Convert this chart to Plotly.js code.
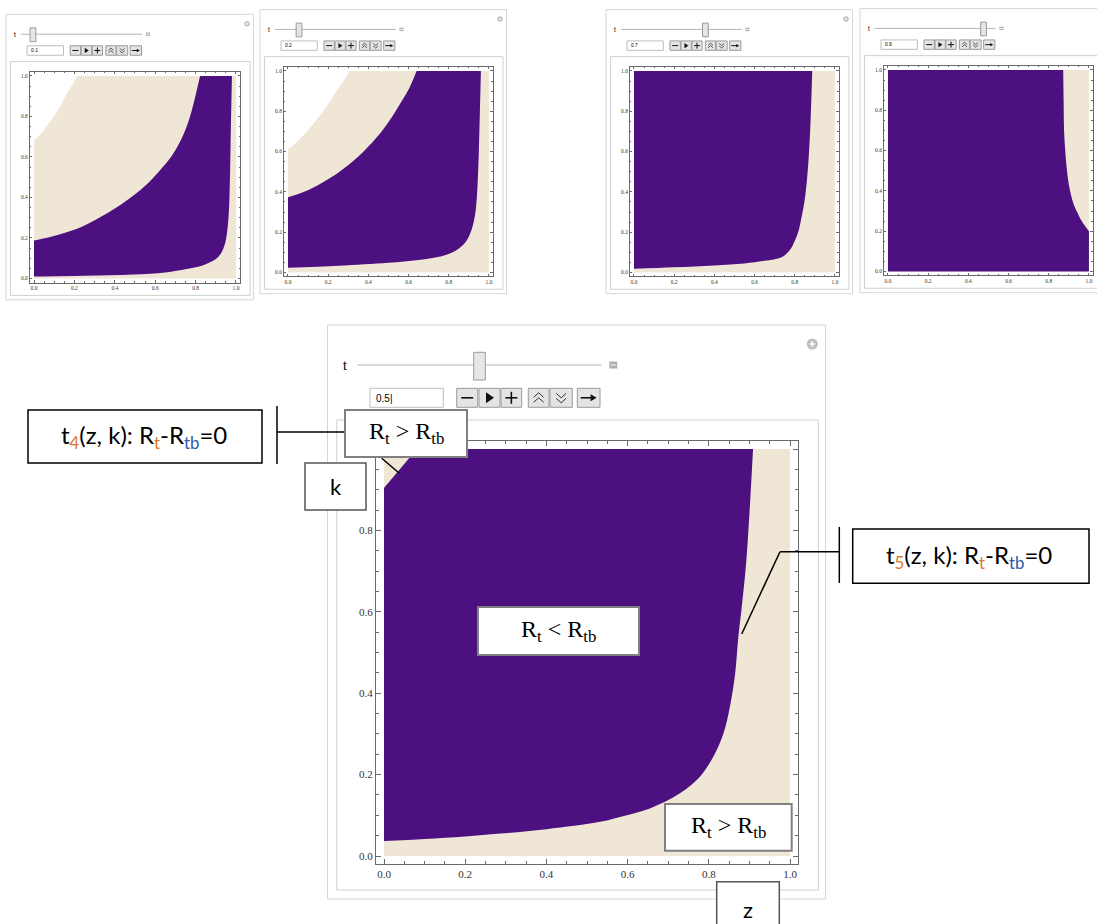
<!DOCTYPE html>
<html>
<head>
<meta charset="utf-8">
<script src="https://cdn.plot.ly/plotly-3.0.1.min.js"></script>
<style>
  html, body { margin: 0; padding: 0; background: #fff; }
  #chart { width: 1097px; height: 924px; }
</style>
</head>
<body>
<div id="chart"></div>
<script>
// Slider value of each Manipulate panel (four small ones, then the big one)
const tValues = [0.1, 0.2, 0.7, 0.9, 0.5];
const tLabels = ['0.1', '0.2', '0.7', '0.9', '0.5|'];

// Unit square (z, k) that the region plot covers
const squareZ = [0, 1, 1];
const squareK = [0, 0, 1];

// t = 0.1
const t01EdgeZ = [0, 0.05, 0.096, 0.13, 0.162, 0.19, 0.214];
const t01EdgeK = [0.68, 0.735, 0.797, 0.85, 0.913, 0.955, 1.0];
const t01UpperZ = [0, 0.08, 0.162, 0.25, 0.327, 0.41, 0.492, 0.56, 0.624, 0.68, 0.723, 0.755, 0.78, 0.80, 0.822];
const t01UpperK = [0.188, 0.205, 0.228, 0.262, 0.302, 0.352, 0.41, 0.467, 0.535, 0.603, 0.675, 0.748, 0.826, 0.905, 1.0];
const t01LowerZ = [0, 0.25, 0.49, 0.65, 0.756, 0.83, 0.871, 0.905, 0.929, 0.945, 0.954, 0.962, 0.967, 0.971, 0.974, 0.977, 0.98];
const t01LowerK = [0.01, 0.014, 0.02, 0.03, 0.047, 0.063, 0.08, 0.1, 0.13, 0.17, 0.213, 0.29, 0.38, 0.54, 0.713, 0.86, 1.0];

// t = 0.2
const t02EdgeZ = [0, 0.04, 0.085, 0.125, 0.168, 0.21, 0.25, 0.28, 0.308];
const t02EdgeK = [0.61, 0.645, 0.69, 0.737, 0.79, 0.85, 0.914, 0.955, 1.0];
const t02UpperZ = [0, 0.08, 0.168, 0.25, 0.333, 0.40, 0.466, 0.51, 0.549, 0.58, 0.607, 0.64];
const t02UpperK = [0.373, 0.40, 0.444, 0.495, 0.56, 0.625, 0.70, 0.76, 0.823, 0.873, 0.922, 1.0];
const t02LowerZ = [0, 0.25, 0.5, 0.65, 0.765, 0.82, 0.864, 0.893, 0.914, 0.93, 0.939, 0.945, 0.95, 0.955, 0.96];
const t02LowerK = [0.023, 0.033, 0.048, 0.062, 0.081, 0.1, 0.13, 0.165, 0.213, 0.28, 0.361, 0.47, 0.61, 0.8, 1.0];

// t = 0.7
const t07EdgeZ = [0, 0];
const t07EdgeK = [0, 1];
const t07UpperZ = [0, 0.887];
const t07UpperK = [1, 1];
const t07LowerZ = [0, 0.2, 0.4, 0.55, 0.65, 0.735, 0.775, 0.801, 0.82, 0.834, 0.848, 0.859, 0.868, 0.876, 0.882, 0.887];
const t07LowerK = [0.018, 0.026, 0.035, 0.045, 0.058, 0.076, 0.11, 0.159, 0.21, 0.275, 0.35, 0.441, 0.55, 0.69, 0.84, 1.0];

// t = 0.9
const t09EdgeZ = [0, 0];
const t09EdgeK = [0, 1];
const t09UpperZ = [1, 0, 0];
const t09UpperK = [0, 0, 1];
const t09LowerZ = [1, 0.97, 0.947, 0.925, 0.91, 0.897, 0.889, 0.882, 0.877, 0.874, 0.872];
const t09LowerK = [0.2, 0.24, 0.283, 0.33, 0.383, 0.45, 0.517, 0.6, 0.683, 0.85, 1.0];

// t = 0.5 (big panel)
const t05EdgeZ = [0, 0];
const t05EdgeK = [0, 1];
const t05UpperZ = [0, 0.081];
const t05UpperK = [0.904, 1.0];
const t05LowerZ = [0, 0.1, 0.2, 0.286, 0.4, 0.532, 0.581, 0.655, 0.729, 0.778, 0.811, 0.836, 0.852, 0.865, 0.872, 0.882, 0.892, 0.9, 0.909];
const t05LowerK = [0.037, 0.042, 0.048, 0.055, 0.066, 0.084, 0.096, 0.117, 0.154, 0.195, 0.244, 0.301, 0.367, 0.449, 0.531, 0.62, 0.72, 0.84, 1.0];

const regions = [
  { ez: t01EdgeZ, ek: t01EdgeK, uz: t01UpperZ, uk: t01UpperK, lz: t01LowerZ, lk: t01LowerK },
  { ez: t02EdgeZ, ek: t02EdgeK, uz: t02UpperZ, uk: t02UpperK, lz: t02LowerZ, lk: t02LowerK },
  { ez: t07EdgeZ, ek: t07EdgeK, uz: t07UpperZ, uk: t07UpperK, lz: t07LowerZ, lk: t07LowerK },
  { ez: t09EdgeZ, ek: t09EdgeK, uz: t09UpperZ, uk: t09UpperK, lz: t09LowerZ, lk: t09LowerK },
  { ez: t05EdgeZ, ek: t05EdgeK, uz: t05UpperZ, uk: t05UpperK, lz: t05LowerZ, lk: t05LowerK }
];
// upper boundary drawn as a smooth curve or as straight frame edges
const upperShape = ['spline', 'spline', 'linear', 'linear', 'linear'];

// Page placement of each panel (pixels) and its zoom factor
const panelX = [5.9, 260, 606, 860, 327.5];
const panelY = [14.3, 9.6, 9.6, 8.6, 325];
const panelScale = [0.4975, 0.495, 0.495, 0.495, 1];

const W = 1097, H = 924;
const PURPLE = '#4c1081';
const BEIGE = '#efe6d5';

const px = x => x / W;
const py = y => 1 - y / H;
const P = (x, y) => px(x).toFixed(5) + ',' + py(y).toFixed(5);

const shapes = [];
const annotations = [];

function rect(x0, y0, x1, y1, lineColor, lineWidth, fill) {
  shapes.push({
    type: 'rect', xref: 'paper', yref: 'paper', layer: 'above',
    x0: px(x0), x1: px(x1), y0: py(y1), y1: py(y0),
    line: { color: lineColor, width: lineWidth },
    fillcolor: fill || 'rgba(0,0,0,0)'
  });
}

function seg(x0, y0, x1, y1, color, width) {
  shapes.push({
    type: 'line', xref: 'paper', yref: 'paper', layer: 'above',
    x0: px(x0), x1: px(x1), y0: py(y0), y1: py(y1),
    line: { color: color, width: width }
  });
}

function poly(pts, color, width, fill) {
  let d = 'M ' + pts.map(p => P(p[0], p[1])).join(' L ');
  if (fill) d += ' Z';
  shapes.push({
    type: 'path', xref: 'paper', yref: 'paper', layer: 'above', path: d,
    line: { color: color, width: fill ? 0 : width },
    fillcolor: fill || 'rgba(0,0,0,0)'
  });
}

function label(x, y, text, size, family, anchor) {
  annotations.push({
    xref: 'paper', yref: 'paper', x: px(x), y: py(y), text: text, showarrow: false,
    xanchor: anchor || 'center', yanchor: 'middle',
    font: { size: size, family: family, color: '#000' }
  });
}

// Manipulate frame, slider and buttons of one panel
function drawPanel(i) {
  const s = panelScale[i];
  const X = v => panelX[i] + v * s;
  const Y = v => panelY[i] + v * s;

  rect(X(0), Y(0), X(498), Y(574), '#d6d6d6', 1);
  rect(X(9.2), Y(95), X(490.8), Y(565), '#d0d0d0', 1);

  // plus icon top right
  shapes.push({
    type: 'circle', xref: 'paper', yref: 'paper', layer: 'above',
    x0: px(X(479.3)), x1: px(X(490.3)), y0: py(Y(24.5)), y1: py(Y(13.5)),
    line: { width: 0 }, fillcolor: '#bdbdbd'
  });
  seg(X(481.8), Y(19), X(487.8), Y(19), '#fff', 1.5 * s);
  seg(X(484.8), Y(16), X(484.8), Y(22), '#fff', 1.5 * s);

  // slider
  label(X(17.5), Y(40), 't', 13 * s, 'Liberation Sans');
  seg(X(30), Y(40), X(274), Y(40), '#b5b5b5', 1);
  const tx = 30 + tValues[i] * 244;
  rect(X(tx - 5.8), Y(27.3), X(tx + 5.8), Y(55), '#9a9a9a', 1, '#e6e6e6');
  rect(X(281.8), Y(36.5), X(289.8), Y(43.5), '#aaaaaa', 0, '#b0b0b0');
  seg(X(283.3), Y(40), X(288.3), Y(40), '#fff', 1);

  // value field
  rect(X(42.5), Y(63.3), X(115.8), Y(82.3), '#bdbdbd', 1, '#fff');
  label(X(46), Y(73), tLabels[i], 10 * s, 'Liberation Sans', 'left');

  // buttons
  const btn = [[129.2, 150.2], [151.5, 172.5], [173.5, 194.2], [200.8, 221.5], [222.5, 244.8], [249.8, 272.5]];
  btn.forEach(b => rect(X(b[0]), Y(63.3), X(b[1]), Y(82.3), '#9a9a9a', 1, '#e4e4e4'));
  const cy = 72.8;
  const c = b => (b[0] + b[1]) / 2;
  const lw = Math.max(1, 1.6 * s);
  // minus
  seg(X(c(btn[0]) - 6), Y(cy), X(c(btn[0]) + 6), Y(cy), '#111', lw);
  // play
  poly([[X(c(btn[1]) - 3.5), Y(cy - 5.5)], [X(c(btn[1]) + 4.5), Y(cy)], [X(c(btn[1]) - 3.5), Y(cy + 5.5)]], '#111', 0, '#111');
  // plus
  seg(X(c(btn[2]) - 6), Y(cy), X(c(btn[2]) + 6), Y(cy), '#111', lw);
  seg(X(c(btn[2])), Y(cy - 6), X(c(btn[2])), Y(cy + 6), '#111', lw);
  // faster / slower
  const u = c(btn[3]), d = c(btn[4]);
  poly([[X(u - 5), Y(cy - 0.5)], [X(u), Y(cy - 5)], [X(u + 5), Y(cy - 0.5)]], '#333', Math.max(0.8, s));
  poly([[X(u - 5), Y(cy + 4.5)], [X(u), Y(cy)], [X(u + 5), Y(cy + 4.5)]], '#333', Math.max(0.8, s));
  poly([[X(d - 5), Y(cy - 4.5)], [X(d), Y(cy)], [X(d + 5), Y(cy - 4.5)]], '#333', Math.max(0.8, s));
  poly([[X(d - 5), Y(cy + 0.5)], [X(d), Y(cy + 5)], [X(d + 5), Y(cy + 0.5)]], '#333', Math.max(0.8, s));
  // direction arrow
  const a = c(btn[5]);
  seg(X(a - 8), Y(cy), X(a + 4), Y(cy), '#111', lw);
  poly([[X(a + 2), Y(cy - 3.5)], [X(a + 8), Y(cy)], [X(a + 2), Y(cy + 3.5)]], '#111', 0, '#111');
}

const data = [];
const layout = {
  width: W, height: H,
  margin: { l: 0, r: 0, t: 0, b: 0 },
  paper_bgcolor: '#fff', plot_bgcolor: 'rgba(0,0,0,0)',
  showlegend: false,
  shapes: shapes, annotations: annotations
};

regions.forEach((r, i) => {
  const s = panelScale[i];
  const X = v => panelX[i] + v * s;
  const Y = v => panelY[i] + v * s;
  const n = i === 0 ? '' : String(i + 1);
  const xa = 'x' + n, ya = 'y' + n;
  const base = { type: 'scatter', mode: 'lines', xaxis: xa, yaxis: ya, hoverinfo: 'skip' };

  // beige: whole square, cut by the white corner where there is one
  data.push(Object.assign({}, base, {
    x: squareZ, y: squareK, line: { width: 0, color: BEIGE }
  }));
  data.push(Object.assign({}, base, {
    x: r.ez, y: r.ek, fill: 'tonexty', fillcolor: BEIGE,
    line: { width: 0, color: BEIGE, shape: 'spline', smoothing: 1 }
  }));
  // purple: Rt < Rtb, between upper and lower boundary
  data.push(Object.assign({}, base, {
    x: r.uz, y: r.uk, line: { width: 0, color: PURPLE, shape: upperShape[i], smoothing: 1 }
  }));
  data.push(Object.assign({}, base, {
    x: r.lz, y: r.lk, fill: 'tonexty', fillcolor: PURPLE,
    line: { width: 0, color: PURPLE, shape: 'spline', smoothing: 1 }
  }));

  const pad = 0.02;
  const fl = X(56.5) - pad * 406 * s, fr = X(462.5) + pad * 406 * s;
  const ft = Y(124) - pad * 407 * s, fb = Y(531) + pad * 407 * s;
  const axis = {
    range: [-pad, 1 + pad], showgrid: false, zeroline: false, fixedrange: true,
    showline: true, linecolor: '#6a6a6a', linewidth: 1, mirror: 'ticks',
    ticks: 'inside', ticklen: 5 * s, tickcolor: '#6a6a6a', tickwidth: 1,
    tick0: 0, dtick: 0.2, tickformat: '.1f',
    tickfont: { family: 'Liberation Serif', size: 11 * s, color: '#333' },
    minor: { ticks: 'inside', ticklen: 3 * s, dtick: 0.05, tickcolor: '#6a6a6a', tickwidth: 1, showgrid: false }
  };
  layout['xaxis' + n] = Object.assign({}, axis, { domain: [px(fl), px(fr)], anchor: ya });
  layout['yaxis' + n] = Object.assign({}, axis, { domain: [py(fb), py(ft)], anchor: xa });

  drawPanel(i);
});

// Callouts on the big panel
const ORANGE = '#d9782d', BLUE = '#2d5aa6';
const serif = 'Liberation Serif', sans = 'Lato';
const rgt = 'R<sub>t</sub> &gt; R<sub>tb</sub>';
const rlt = 'R<sub>t</sub> &lt; R<sub>tb</sub>';
const tEq = d => 't<sub><span style="color:' + ORANGE + '">' + d + '</span></sub>(z, k): R<sub><span style="color:' + ORANGE + '">t</span></sub>-R<sub><span style="color:' + BLUE + '">tb</span></sub>=0';

// t4 callout
rect(28, 410, 262, 463, '#000', 1.5, '#fff');
label(144, 436.5, tEq(4), 24, sans);
seg(277, 406, 277, 464, '#000', 1.5);
seg(277, 432, 345, 432, '#000', 1.5);
seg(381.7, 458.3, 399.3, 473.3, '#000', 1.5);

// t5 callout
rect(852.7, 529, 1089, 583.3, '#000', 1.5, '#fff');
label(969, 556, tEq(5), 24, sans);
seg(839.3, 527, 839.3, 583, '#000', 1.5);
seg(839.3, 551.7, 780, 551.7, '#000', 1.5);
seg(780, 551.7, 741.7, 634, '#000', 1.5);

// region labels
rect(345, 410, 467, 457, '#808080', 2, '#fff');
label(406, 433.5, rgt, 24, serif);
rect(478, 607, 639, 655, '#808080', 2, '#fff');
label(558.5, 631, rlt, 24, serif);
rect(665, 804, 791.7, 850.7, '#808080', 2, '#fff');
label(728.3, 827.3, rgt, 24, serif);

// axis name boxes
rect(305, 463, 366, 510, '#555', 1.5, '#fff');
label(335.5, 486.5, 'k', 22, sans);
rect(716.7, 881.7, 779.3, 930, '#555', 1.5, '#fff');
label(748, 909, 'z', 22, sans);

Plotly.newPlot('chart', data, layout, { staticPlot: true, displayModeBar: false });
</script>
</body>
</html>
